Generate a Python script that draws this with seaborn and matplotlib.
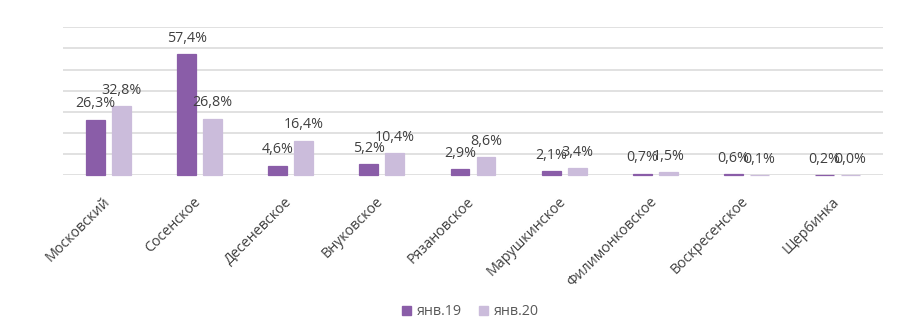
import matplotlib
matplotlib.use("Agg")
import matplotlib.pyplot as plt
import matplotlib.transforms as mtransforms
import seaborn as sns
import pandas as pd

categories = ["Московский", "Сосенское", "Десеневское", "Внуковское", "Рязановское",
              "Марушкинское", "Филимонковское", "Воскресенское", "Щербинка"]
series_names = ["янв.19", "янв.20"]
jan19 = [26.3, 57.4, 4.6, 5.2, 2.9, 2.1, 0.7, 0.6, 0.2]
jan20 = [32.8, 26.8, 16.4, 10.4, 8.6, 3.4, 1.5, 0.1, 0.0]

df = pd.DataFrame({
    "cat": categories * 2,
    "series": [series_names[0]] * len(categories) + [series_names[1]] * len(categories),
    "value": jan19 + jan20,
})

sns.set_theme(style="white")
plt.rcParams["font.family"] = ["Open Sans", "DejaVu Sans"]

fig = plt.figure(figsize=(9.01, 3.28), dpi=100)
ax = fig.add_axes([63 / 901, 1 - 175.3 / 328, (883 - 63) / 901, (175.3 - 27.3) / 328])

colors = ["#8A5DA8", "#CBBCDB"]
sns.barplot(data=df, x="cat", y="value", hue="series", order=categories,
            hue_order=series_names, palette=colors, width=0.57, gap=0.27,
            saturation=1, ax=ax, legend=False, linewidth=0)

# thin outline in each bar's own colour so tiny values stay visible
for cont in ax.containers:
    for p in cont.patches:
        p.set_edgecolor(p.get_facecolor())
        p.set_linewidth(0.9)
        p.set_zorder(3)
        p.set_clip_on(False)

ax.set_ylim(0, 70)
ax.set_xlim(-0.5, len(categories) - 0.5)
ax.set_yticks(range(0, 71, 10))
ax.set_yticklabels([])
ax.yaxis.grid(True, color="#D9D9D9", lw=1.1, zorder=0)
ax.set_axisbelow(True)
for s in ax.spines.values():
    s.set_visible(False)
ax.set_xlabel("")
ax.set_ylabel("")
ax.tick_params(axis="both", length=0)
ax.tick_params(axis="x", pad=13.5)

ax.set_xticks(range(len(categories)))
ax.set_xticklabels(categories, rotation=45, ha="right", rotation_mode="anchor",
                   fontsize=10.3, color="#404040")
offset = mtransforms.ScaledTranslation(-6 / 100, 0, fig.dpi_scale_trans)
for lbl in ax.get_xticklabels():
    lbl.set_transform(lbl.get_transform() + offset)

for cont, vals in zip(ax.containers, [jan19, jan20]):
    labels = [f"{v:.1f}%".replace(".", ",") for v in vals]
    ax.bar_label(cont, labels=labels, padding=6, fontsize=10.3, color="#404040", zorder=4)

handles = [plt.Rectangle((0, 0), 1, 1, color=c) for c in colors]
fig.legend(handles, series_names, loc="center", bbox_to_anchor=(0.522, 0.049),
           ncol=2, frameon=False, fontsize=10.3, handlelength=0.6, handleheight=0.6,
           handletextpad=0.4, columnspacing=1.2, labelcolor="#595959")

fig.savefig("out.png", dpi=100)
